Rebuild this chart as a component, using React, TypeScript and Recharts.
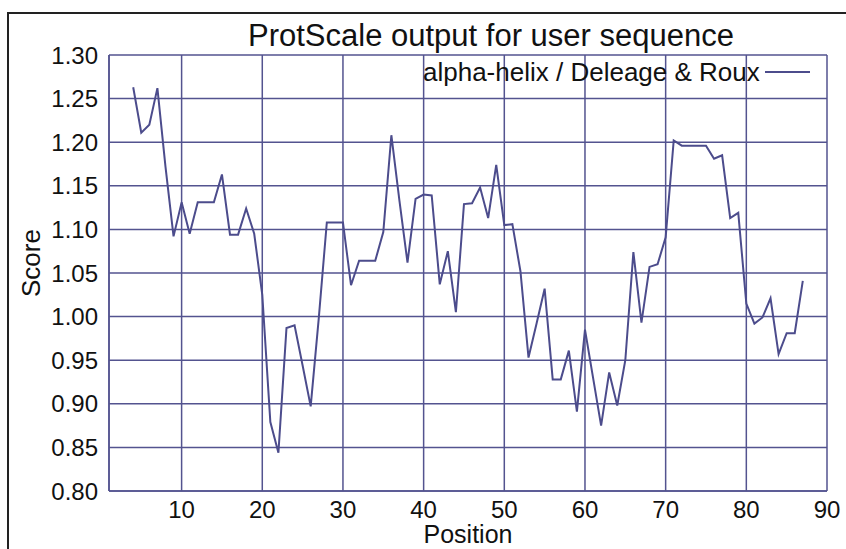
import { LineChart, Line, XAxis, YAxis, CartesianGrid } from "recharts";

const positions = [
  4, 5, 6, 7, 8, 9, 10, 11, 12, 13, 14, 15, 16, 17, 18, 19, 20, 21, 22, 23, 24, 25, 26, 27, 28, 29, 30,
  31, 32, 33, 34, 35, 36, 37, 38, 39, 40, 41, 42, 43, 44, 45, 46, 47, 48, 49, 50, 51, 52, 53, 54, 55,
  56, 57, 58, 59, 60, 61, 62, 63, 64, 65, 66, 67, 68, 69, 70, 71, 72, 73, 74, 75, 76, 77, 78, 79, 80,
  81, 82, 83, 84, 85, 86, 87,
];

const scores = [
  1.263, 1.211, 1.22, 1.262, 1.172, 1.092, 1.131, 1.095, 1.131, 1.131, 1.131, 1.163, 1.094, 1.094,
  1.124, 1.095, 1.025, 0.879, 0.844, 0.987, 0.99, 0.944, 0.897, 0.998, 1.108, 1.108, 1.108, 1.036,
  1.064, 1.064, 1.064, 1.097, 1.208, 1.133, 1.062, 1.135, 1.14, 1.139, 1.037, 1.075, 1.005, 1.129,
  1.13, 1.148, 1.113, 1.174, 1.105, 1.106, 1.052, 0.953, 0.992, 1.032, 0.928, 0.928, 0.961, 0.891,
  0.985, 0.93, 0.875, 0.936, 0.898, 0.95, 1.074, 0.993, 1.057, 1.06, 1.091, 1.202, 1.196, 1.196,
  1.196, 1.196, 1.181, 1.185, 1.113, 1.119, 1.015, 0.992, 0.999, 1.021, 0.957, 0.981, 0.981, 1.041,
];

const xTicks = [10, 20, 30, 40, 50, 60, 70, 80, 90];
const yTicks = [0.8, 0.85, 0.9, 0.95, 1.0, 1.05, 1.1, 1.15, 1.2, 1.25, 1.3];

const seriesName = "alpha-helix / Deleage & Roux";

const data = positions.map((p, i) => ({ position: p, score: scores[i] }));

const FONT = "'Liberation Sans', Arial, sans-serif";
const LINE = "#4c4c8c";
const GRID = "#53538f";

export default function App() {
  return (
    <div style={{ position: "absolute", left: 0, top: 0, width: 846, height: 549, overflow: "hidden", background: "#fff" }}>
      <div
        style={{
          position: "absolute",
          left: 7,
          top: 12,
          width: 900,
          height: 600,
          border: "2px solid #222",
        }}
      />
      <div
        style={{
          position: "absolute",
          left: 0,
          width: 982,
          top: 18,
          textAlign: "center",
          fontFamily: FONT,
          fontSize: 31,
          lineHeight: "36px",
          color: "#111",
        }}
      >
        ProtScale output for user sequence
      </div>
      <LineChart
        width={846}
        height={549}
        data={data}
        margin={{ top: 55, right: 19, bottom: 0, left: 0 }}
        style={{ position: "absolute", left: 0, top: 0 }}
      >
        <CartesianGrid stroke={GRID} strokeWidth={1.5} />
        <XAxis
          dataKey="position"
          type="number"
          domain={[1, 90]}
          ticks={xTicks}
          height={58}
          tickLine={false}
          tickSize={0}
          tickMargin={10}
          axisLine={{ stroke: GRID, strokeWidth: 1.5 }}
          tick={{ fill: "#111", fontSize: 24, fontFamily: FONT }}
          label={{ value: "Position", position: "insideBottom", offset: 6, fill: "#111", fontSize: 25, fontFamily: FONT }}
        />
        <YAxis
          type="number"
          domain={[0.8, 1.3]}
          ticks={yTicks}
          width={109}
          tickLine={false}
          tickSize={0}
          tickMargin={11}
          axisLine={{ stroke: GRID, strokeWidth: 1.5 }}
          tickFormatter={(v: number) => v.toFixed(2)}
          tick={{ fill: "#111", fontSize: 24, fontFamily: FONT }}
          label={{
            value: "Score",
            content: () => (
              <text
                x={40}
                y={263}
                transform="rotate(-90 40 263)"
                textAnchor="middle"
                fill="#111"
                fontSize={26}
                fontFamily={FONT}
              >
                Score
              </text>
            ),
          }}
        />
        <Line
          dataKey="score"
          name={seriesName}
          stroke={LINE}
          strokeWidth={2}
          dot={false}
          isAnimationActive={false}
        />
      </LineChart>
      <div
        style={{
          position: "absolute",
          left: 423,
          top: 57,
          display: "flex",
          alignItems: "center",
          fontFamily: FONT,
          fontSize: 26,
          lineHeight: "30px",
          color: "#111",
          whiteSpace: "nowrap",
        }}
      >
        <span>{seriesName}</span>
        <span style={{ display: "inline-block", width: 45, height: 0, borderTop: `2px solid ${LINE}`, marginLeft: 5 }} />
      </div>
    </div>
  );
}
